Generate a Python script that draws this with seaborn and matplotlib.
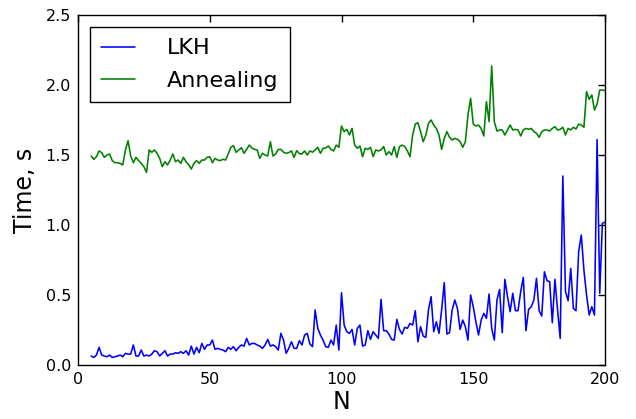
import numpy as np
import pandas as pd
import matplotlib
matplotlib.use("Agg")
import matplotlib.pyplot as plt
import seaborn as sns

N = np.arange(5, 201)

lkh = [
    0.064, 0.054, 0.071, 0.126, 0.071, 0.064, 0.059, 0.071, 0.054, 0.059,
    0.064, 0.071, 0.059, 0.083, 0.078, 0.078, 0.143, 0.064, 0.064, 0.107,
    0.064, 0.071, 0.064, 0.078, 0.102, 0.095, 0.064, 0.083, 0.102, 0.064,
    0.078, 0.078, 0.088, 0.083, 0.095, 0.083, 0.102, 0.071, 0.135, 0.078,
    0.126, 0.088, 0.154, 0.112, 0.143, 0.143, 0.178, 0.112, 0.119, 0.112,
    0.107, 0.095, 0.126, 0.112, 0.131, 0.102, 0.126, 0.143, 0.135, 0.190,
    0.143, 0.154, 0.154,
    0.143, 0.135, 0.119, 0.143, 0.183, 0.135, 0.143, 0.131, 0.107, 0.226,
    0.178, 0.083, 0.119, 0.166, 0.119, 0.119, 0.174, 0.143, 0.214, 0.226,
    0.150, 0.131, 0.393, 0.262, 0.214, 0.178, 0.131, 0.126, 0.178, 0.143,
    0.285, 0.107, 0.516, 0.285, 0.238, 0.226, 0.254, 0.143, 0.262, 0.285,
    0.135, 0.143, 0.245, 0.183, 0.238, 0.214, 0.190, 0.469, 0.245, 0.245,
    0.221, 0.183, 0.178, 0.326, 0.254, 0.221, 0.269, 0.262, 0.297, 0.285,
    0.388, 0.166, 0.274, 0.207, 0.197, 0.393, 0.488,
    0.238, 0.309, 0.226, 0.393, 0.588, 0.221, 0.231, 0.393, 0.464, 0.404,
    0.254, 0.321, 0.274, 0.178, 0.500, 0.416, 0.309, 0.214, 0.321, 0.369,
    0.333, 0.507, 0.262, 0.178, 0.464, 0.540, 0.231, 0.612, 0.488, 0.381,
    0.512, 0.388, 0.388, 0.524, 0.626, 0.245, 0.397, 0.416, 0.464, 0.619,
    0.388, 0.350, 0.666, 0.602, 0.595, 0.302, 0.612, 0.393, 0.190, 1.350,
    0.524, 0.459, 0.690, 0.404, 0.388, 0.809, 0.928, 0.678, 0.500, 0.357,
    0.416, 0.357, 1.610, 0.512, 1.012, 1.020,
]

annealing = [
    1.493, 1.469, 1.488, 1.529, 1.517, 1.483, 1.500, 1.507, 1.460, 1.445,
    1.445, 1.440, 1.429, 1.536, 1.602, 1.493, 1.445, 1.483, 1.460, 1.440,
    1.417, 1.376, 1.536, 1.519, 1.536, 1.512, 1.476, 1.417, 1.452, 1.429,
    1.464, 1.507, 1.452, 1.464, 1.440, 1.483, 1.452, 1.430, 1.400, 1.440,
    1.460, 1.440, 1.464, 1.464, 1.483, 1.488, 1.445, 1.476, 1.464, 1.460,
    1.470, 1.464, 1.507, 1.555, 1.567, 1.519, 1.536, 1.552, 1.512, 1.540,
    1.571, 1.550, 1.540,
    1.536, 1.476, 1.512, 1.500, 1.493, 1.595, 1.493, 1.507, 1.540, 1.540,
    1.520, 1.512, 1.517, 1.529, 1.483, 1.531, 1.510, 1.507, 1.529, 1.500,
    1.529, 1.520, 1.536, 1.555, 1.512, 1.548, 1.550, 1.564, 1.540, 1.529,
    1.571, 1.555, 1.707, 1.667, 1.683, 1.643, 1.690, 1.571, 1.548, 1.564,
    1.488, 1.548, 1.540, 1.555, 1.488, 1.536, 1.529, 1.536, 1.560, 1.500,
    1.524, 1.500, 1.560, 1.483, 1.560, 1.571, 1.560, 1.529, 1.488, 1.643,
    1.721, 1.731, 1.667, 1.595, 1.643, 1.726,
    1.750, 1.714, 1.690, 1.643, 1.540, 1.619, 1.667, 1.626, 1.607, 1.619,
    1.612, 1.595, 1.555, 1.595, 1.786, 1.905, 1.721, 1.707, 1.714, 1.690,
    1.636, 1.881, 1.738, 2.136, 1.738, 1.671, 1.679, 1.679, 1.643, 1.679,
    1.714, 1.679, 1.683, 1.679, 1.636, 1.679, 1.690, 1.683, 1.690, 1.667,
    1.655, 1.626, 1.667, 1.679, 1.679, 1.671, 1.690, 1.702, 1.679, 1.683,
    1.698, 1.643, 1.690, 1.679, 1.698, 1.686, 1.721, 1.714, 1.698, 1.952,
    1.898, 1.929, 1.821, 1.864, 1.964, 1.964, 1.960,
]

series_names = ["LKH", "Annealing"]
series_colors = ["#0000ff", "#008000"]

df = pd.DataFrame({
    "N": np.concatenate([N, N]),
    "Time": np.concatenate([lkh, annealing]),
    "Method": [series_names[0]] * len(N) + [series_names[1]] * len(N),
})

sns.set_style("white")
plt.rcParams["font.family"] = ["DejaVu Sans"]
plt.rcParams.update({
    "xtick.direction": "in",
    "ytick.direction": "in",
    "xtick.top": True,
    "ytick.right": True,
    "axes.edgecolor": "black",
    "axes.linewidth": 1.0,
    "xtick.color": "black",
    "ytick.color": "black",
    "text.color": "black",
    "axes.labelcolor": "black",
})

fig = plt.figure(figsize=(6.36, 4.19), dpi=100)
ax = fig.add_axes([78 / 636, 1 - 365 / 419, (605 - 78) / 636, (365 - 15) / 419])

sns.lineplot(data=df, x="N", y="Time", hue="Method",
             palette=dict(zip(series_names, series_colors)),
             hue_order=series_names, linewidth=1.15, ax=ax)

ax.set_xlim(0, 200)
ax.set_ylim(0, 2.5)
ax.set_xticks([0, 50, 100, 150, 200])
ax.set_yticks([0.0, 0.5, 1.0, 1.5, 2.0, 2.5])
ax.set_yticklabels(["0.0", "0.5", "1.0", "1.5", "2.0", "2.5"])
ax.tick_params(labelsize=11.5, top=True, right=True, direction="in",
               length=5, width=1, pad=5, labelcolor="black")
ax.set_xlabel("N", fontsize=17, labelpad=2)
ax.set_ylabel("Time, s", fontsize=17, labelpad=6)

handles, labels = ax.get_legend_handles_labels()
leg = ax.legend(handles, labels, loc="upper left", fontsize=16,
                frameon=True, fancybox=False, shadow=False,
                handlelength=1.5, handletextpad=1.45, borderpad=0.5,
                labelspacing=0.55, borderaxespad=0.55)
leg.get_frame().set_edgecolor("black")
leg.get_frame().set_linewidth(1.0)
leg.get_frame().set_alpha(1.0)
for t in leg.get_texts():
    t.set_color("black")

fig.savefig("out.png", dpi=100)
